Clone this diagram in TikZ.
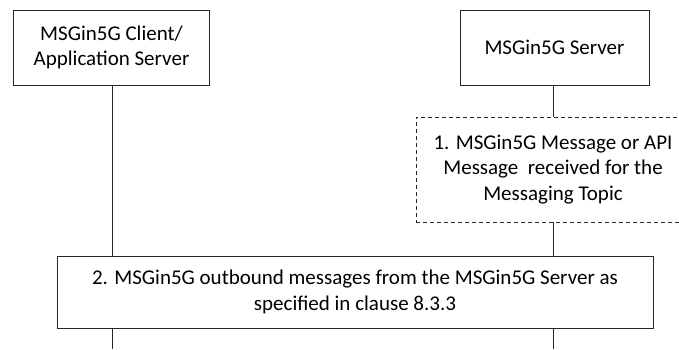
\documentclass[tikz,border=0pt]{standalone}
\usepackage{fontspec}
\setmainfont{Carlito}
\begin{document}
\begin{tikzpicture}[x=1pt,y=-1pt,
  every node/.style={font=\fontsize{21}{25.5}\selectfont, align=center, inner sep=0pt},
  entity/.style={draw=black!85, line width=0.8pt, fill=white},
  stepdash/.style={draw=black!85, line width=0.8pt, dash pattern=on 4pt off 3pt, fill=white},
  stepbox/.style={draw=black!85, line width=0.8pt, fill=white},
  life/.style={draw=black!85, line width=0.8pt}]
\useasboundingbox (0,0) rectangle (679,349);
\clip (0,0) rectangle (679,349);
\coordinate (clend) at (112,349);
\coordinate (svend) at (553,349);
\draw[life] (112,85) -- (clend);
\draw[life] (553,85) -- (svend);
\node[entity, minimum width=196pt, minimum height=75pt] (cl) at (111.5,47.5) {MSGin5G Client/\\Application Server};
\node[entity, minimum width=189pt, minimum height=75pt] (sv) at (554.5,47.5) {MSGin5G Server};
\node[stepdash, minimum width=274pt, minimum height=105pt] (s1) at (553,169.5) {1. MSGin5G Message or API\\Message\ \ received for the\\Messaging Topic};
\node[stepbox, minimum width=596pt, minimum height=72pt] (s2) at (355,292) {2. MSGin5G outbound messages from the MSGin5G Server as\\specified in clause 8.3.3};
\end{tikzpicture}
\end{document}
